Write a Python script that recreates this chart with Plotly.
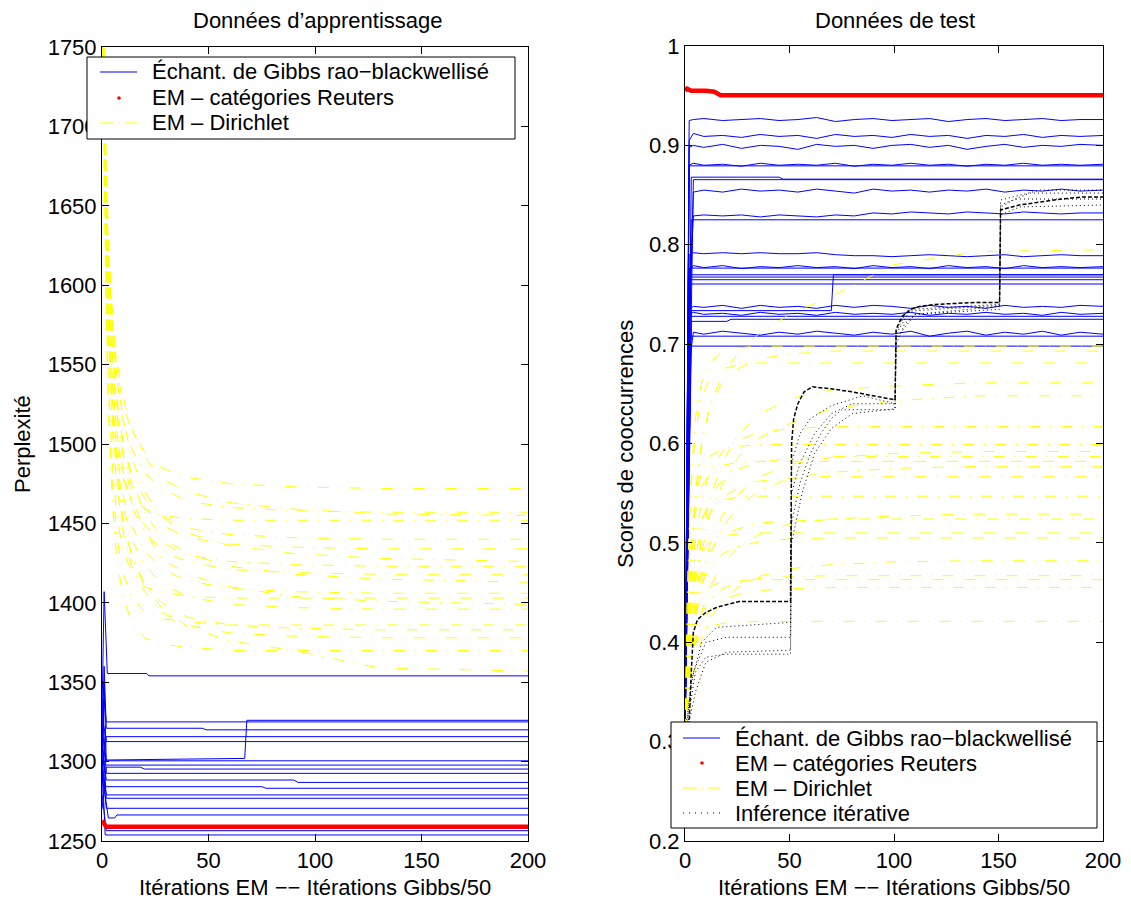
import plotly.graph_objects as go

# The page body adds an 8 px margin; the figure is sized and positioned so that
# its content lands on the reference's pixel positions inside the 1131x900 window.
PAGE_W, PAGE_H, OFF = 1131, 900, 8
W, H = PAGE_W - OFF, PAGE_H - OFF

# ---------------- Left panel: training data (perplexity) ----------------
XL = [0, 1, 2, 3, 4, 5, 7, 10, 14, 20, 28, 40, 60, 90, 130, 200]
DIR_TRAIN = [
    [1800, 1718, 1659, 1620, 1593, 1574, 1547, 1524, 1508, 1495, 1485, 1479, 1475, 1473, 1472, 1472],
    [1820, 1729, 1664, 1620, 1591, 1570, 1540, 1515, 1497, 1482, 1472, 1464, 1460, 1458, 1457, 1457],
    [1790, 1716, 1663, 1626, 1599, 1579, 1552, 1529, 1509, 1492, 1478, 1470, 1463, 1459, 1456, 1455],
    [1780, 1682, 1616, 1573, 1544, 1524, 1498, 1478, 1467, 1459, 1455, 1453, 1452, 1452, 1452, 1452],
    [1810, 1718, 1651, 1607, 1577, 1555, 1525, 1499, 1481, 1466, 1455, 1447, 1443, 1441, 1440, 1440],
    [1800, 1709, 1643, 1599, 1569, 1547, 1518, 1493, 1474, 1460, 1449, 1441, 1437, 1435, 1434, 1434],
    [1830, 1741, 1676, 1632, 1600, 1575, 1543, 1515, 1491, 1470, 1454, 1444, 1436, 1431, 1428, 1426],
    [1790, 1698, 1632, 1588, 1559, 1537, 1507, 1482, 1463, 1449, 1438, 1430, 1426, 1424, 1423, 1423],
    [1800, 1705, 1636, 1590, 1559, 1536, 1506, 1479, 1460, 1445, 1433, 1426, 1421, 1419, 1418, 1418],
    [1810, 1723, 1659, 1615, 1584, 1560, 1528, 1500, 1477, 1457, 1441, 1431, 1423, 1418, 1415, 1413],
    [1790, 1694, 1625, 1579, 1548, 1525, 1494, 1467, 1448, 1433, 1421, 1414, 1409, 1407, 1406, 1406],
    [1770, 1660, 1587, 1539, 1506, 1484, 1454, 1432, 1420, 1410, 1407, 1404, 1403, 1403, 1403, 1403],
    [1820, 1727, 1660, 1614, 1580, 1555, 1521, 1492, 1466, 1445, 1428, 1418, 1410, 1404, 1401, 1399],
    [1800, 1699, 1626, 1578, 1545, 1521, 1489, 1461, 1440, 1424, 1412, 1404, 1399, 1397, 1396, 1396],
    [1780, 1662, 1583, 1532, 1496, 1473, 1441, 1418, 1404, 1394, 1390, 1388, 1386, 1386, 1386, 1386],
    [1800, 1696, 1621, 1571, 1537, 1512, 1479, 1450, 1429, 1412, 1400, 1391, 1386, 1384, 1383, 1383],
    [1790, 1687, 1613, 1563, 1530, 1506, 1473, 1444, 1423, 1407, 1394, 1386, 1381, 1379, 1378, 1378],
    [1780, 1657, 1575, 1522, 1485, 1460, 1427, 1403, 1388, 1378, 1374, 1372, 1370, 1370, 1370, 1370],
    [1800, 1700, 1630, 1580, 1545, 1520, 1487, 1450, 1430, 1410, 1397, 1385, 1376, 1370, 1359, 1357],
]

GIBBS_TRAIN_X = [
    [0, 1, 2.5, 21, 22, 200],
    [0, 1, 2, 200],
    [0, 1, 2, 47, 49, 200],
    [0, 2, 200],
    [0, 2, 200],
    [0, 1, 2, 67, 68, 200],
    [0, 2, 200],
    [0, 2, 200],
    [0, 2, 18, 20, 200],
    [0, 2, 200],
    [0, 2, 90, 92, 200],
    [0, 2, 75, 77, 200],
    [0, 2, 200],
    [0, 2, 200],
    [0, 2, 200],
    [0, 1, 3, 6, 7, 200],
    [0, 2, 200],
    [0, 1.5, 200],
]
GIBBS_TRAIN_Y = [
    [1330, 1407, 1355.5, 1355.5, 1354, 1354],
    [1300, 1340, 1325, 1325],
    [1310, 1360, 1321, 1321, 1320, 1320],
    [1290, 1315.7, 1315.7],
    [1330, 1312.6, 1312.6],
    [1280, 1350, 1301, 1302, 1326, 1326],
    [1320, 1300.5, 1300.5],
    [1300, 1297.8, 1297.8],
    [1270, 1296.5, 1296.5, 1295.3, 1295.3],
    [1340, 1292.6, 1292.6],
    [1310, 1288.4, 1288.4, 1286.9, 1286.9],
    [1290, 1284.2, 1284.2, 1283.2, 1283.2],
    [1300, 1279, 1279],
    [1320, 1276.9, 1276.9],
    [1300, 1270.6, 1270.6],
    [1290, 1283, 1264.5, 1264.5, 1266.4, 1266.4],
    [1280, 1256.5, 1256.5],
    [1300, 1253.8, 1253.8],
]

REUTERS_TRAIN_X = [0, 1, 2, 200]
REUTERS_TRAIN_Y = [1262.8, 1261, 1259, 1259]

# ---------------- Right panel: test data (co-occurrence scores) ----------------
XR = [0, 1, 2, 3, 5, 8, 12, 18, 25, 35, 50, 70, 100, 140, 200]
DIR_TEST = [
    [0.30, 0.36, 0.42, 0.47, 0.54, 0.60, 0.64, 0.67, 0.69, 0.71, 0.73, 0.748, 0.78, 0.793, 0.795],
    [0.30, 0.439, 0.519, 0.571, 0.626, 0.662, 0.682, 0.692, 0.696, 0.698, 0.698, 0.698, 0.698, 0.698, 0.698],
    [0.30, 0.379, 0.441, 0.489, 0.552, 0.603, 0.638, 0.662, 0.675, 0.685, 0.690, 0.693, 0.693, 0.693, 0.693],
    [0.30, 0.433, 0.510, 0.559, 0.612, 0.647, 0.666, 0.675, 0.679, 0.681, 0.681, 0.681, 0.681, 0.681, 0.681],
    [0.30, 0.343, 0.379, 0.412, 0.459, 0.506, 0.545, 0.582, 0.607, 0.629, 0.645, 0.654, 0.658, 0.661, 0.661],
    [0.30, 0.34, 0.37, 0.40, 0.44, 0.49, 0.53, 0.56, 0.585, 0.605, 0.62, 0.635, 0.643, 0.648, 0.648],
    [0.30, 0.363, 0.414, 0.452, 0.503, 0.544, 0.573, 0.592, 0.603, 0.611, 0.615, 0.617, 0.617, 0.617, 0.617],
    [0.30, 0.405, 0.464, 0.503, 0.545, 0.572, 0.587, 0.595, 0.597, 0.599, 0.599, 0.599, 0.599, 0.599, 0.599],
    [0.30, 0.335, 0.364, 0.391, 0.428, 0.466, 0.499, 0.528, 0.548, 0.566, 0.579, 0.586, 0.590, 0.592, 0.592],
    [0.30, 0.357, 0.403, 0.438, 0.484, 0.521, 0.547, 0.564, 0.574, 0.581, 0.585, 0.587, 0.587, 0.587, 0.587],
    [0.30, 0.399, 0.455, 0.492, 0.531, 0.557, 0.571, 0.578, 0.581, 0.582, 0.582, 0.582, 0.582, 0.582, 0.582],
    [0.30, 0.333, 0.361, 0.386, 0.422, 0.458, 0.488, 0.516, 0.535, 0.552, 0.565, 0.571, 0.575, 0.577, 0.577],
    [0.30, 0.353, 0.396, 0.428, 0.471, 0.506, 0.530, 0.546, 0.555, 0.562, 0.565, 0.567, 0.567, 0.567, 0.567],
    [0.30, 0.386, 0.436, 0.468, 0.503, 0.525, 0.537, 0.543, 0.546, 0.547, 0.547, 0.547, 0.547, 0.547, 0.547],
    [0.30, 0.327, 0.350, 0.371, 0.401, 0.431, 0.456, 0.479, 0.495, 0.508, 0.519, 0.524, 0.527, 0.529, 0.529],
    [0.30, 0.345, 0.381, 0.408, 0.443, 0.472, 0.493, 0.506, 0.514, 0.520, 0.522, 0.524, 0.524, 0.524, 0.524],
    [0.30, 0.374, 0.416, 0.443, 0.472, 0.491, 0.502, 0.507, 0.509, 0.510, 0.510, 0.510, 0.510, 0.510, 0.510],
    [0.30, 0.341, 0.374, 0.398, 0.431, 0.458, 0.476, 0.489, 0.496, 0.501, 0.504, 0.505, 0.505, 0.505, 0.505],
    [0.30, 0.322, 0.340, 0.356, 0.380, 0.404, 0.424, 0.442, 0.455, 0.466, 0.474, 0.478, 0.481, 0.482, 0.482],
    [0.30, 0.333, 0.360, 0.380, 0.407, 0.429, 0.444, 0.454, 0.459, 0.464, 0.466, 0.467, 0.467, 0.467, 0.467],
    [0.30, 0.357, 0.390, 0.411, 0.434, 0.448, 0.456, 0.461, 0.462, 0.463, 0.463, 0.463, 0.463, 0.463, 0.463],
    [0.30, 0.331, 0.356, 0.374, 0.399, 0.419, 0.433, 0.443, 0.448, 0.452, 0.454, 0.455, 0.455, 0.455, 0.455],
    [0.30, 0.342, 0.367, 0.382, 0.399, 0.410, 0.416, 0.419, 0.420, 0.421, 0.421, 0.421, 0.421, 0.421, 0.421],
]

XW = [0, 2, 4, 9, 18, 27, 36, 45, 54, 63, 72, 81, 90, 99, 108, 117, 126, 135, 144, 153, 162, 171, 180, 189, 200]
GIBBS_TEST_NOISY = [
    [0.30, 0.925, 0.926, 0.927, 0.925, 0.926, 0.927, 0.925, 0.926, 0.928, 0.924, 0.926, 0.927, 0.925, 0.926, 0.927, 0.924, 0.926, 0.927, 0.925, 0.926, 0.927, 0.925, 0.926, 0.926],
    [0.30, 0.905, 0.912, 0.909, 0.910, 0.908, 0.911, 0.909, 0.910, 0.907, 0.911, 0.909, 0.910, 0.908, 0.911, 0.909, 0.910, 0.907, 0.910, 0.909, 0.911, 0.908, 0.910, 0.909, 0.910],
    [0.29, 0.898, 0.900, 0.898, 0.901, 0.897, 0.900, 0.899, 0.896, 0.901, 0.899, 0.900, 0.897, 0.900, 0.901, 0.898, 0.900, 0.896, 0.899, 0.901, 0.898, 0.900, 0.899, 0.901, 0.900],
    [0.31, 0.880, 0.882, 0.880, 0.881, 0.879, 0.882, 0.880, 0.881, 0.880, 0.882, 0.879, 0.881, 0.880, 0.882, 0.880, 0.881, 0.879, 0.881, 0.880, 0.882, 0.880, 0.881, 0.880, 0.881],
    [0.30, 0.70, 0.853, 0.855, 0.853, 0.856, 0.854, 0.855, 0.853, 0.856, 0.854, 0.852, 0.856, 0.854, 0.855, 0.853, 0.855, 0.854, 0.856, 0.853, 0.855, 0.854, 0.856, 0.854, 0.855],
    [0.30, 0.75, 0.829, 0.830, 0.829, 0.830, 0.828, 0.830, 0.829, 0.828, 0.830, 0.829, 0.832, 0.831, 0.833, 0.832, 0.831, 0.833, 0.832, 0.831, 0.833, 0.832, 0.831, 0.832, 0.832],
    [0.30, 0.79, 0.792, 0.791, 0.792, 0.791, 0.792, 0.791, 0.791, 0.792, 0.790, 0.789, 0.789, 0.788, 0.789, 0.790, 0.789, 0.788, 0.789, 0.790, 0.788, 0.789, 0.790, 0.789, 0.789],
    [0.30, 0.775, 0.779, 0.777, 0.779, 0.776, 0.778, 0.777, 0.779, 0.777, 0.778, 0.776, 0.779, 0.777, 0.778, 0.776, 0.779, 0.777, 0.778, 0.776, 0.779, 0.777, 0.778, 0.777, 0.778],
    [0.30, 0.735, 0.738, 0.737, 0.739, 0.736, 0.739, 0.737, 0.738, 0.736, 0.739, 0.737, 0.739, 0.738, 0.736, 0.739, 0.737, 0.738, 0.736, 0.739, 0.737, 0.738, 0.737, 0.739, 0.738],
    [0.29, 0.73, 0.732, 0.730, 0.731, 0.729, 0.732, 0.730, 0.731, 0.729, 0.732, 0.730, 0.731, 0.730, 0.732, 0.729, 0.731, 0.730, 0.732, 0.730, 0.731, 0.729, 0.732, 0.730, 0.731],
    [0.30, 0.68, 0.712, 0.710, 0.713, 0.711, 0.709, 0.712, 0.710, 0.713, 0.711, 0.709, 0.712, 0.710, 0.713, 0.708, 0.711, 0.713, 0.709, 0.712, 0.710, 0.713, 0.709, 0.712, 0.710],
]

GIBBS_TEST_X = [
    [0, 2, 200], [0, 3, 45, 47, 200], [0, 4, 200], [0, 3, 200], [0, 2, 200],
    [0, 2, 200], [0, 3, 70, 71, 200], [0, 2, 200], [0, 2, 200], [0, 2, 200],
    [0, 2, 200], [0, 3, 20, 22, 200], [0, 2, 200], [0, 3, 200],
]
GIBBS_TEST_Y = [
    [0.31, 0.8794, 0.8794], [0.30, 0.868, 0.868, 0.866, 0.866], [0.32, 0.8655, 0.8655],
    [0.30, 0.8251, 0.8251], [0.30, 0.7765, 0.7765], [0.31, 0.7698, 0.7698],
    [0.30, 0.7337, 0.7337, 0.7698, 0.7698], [0.29, 0.7675, 0.7675], [0.30, 0.7648, 0.7648],
    [0.31, 0.7605, 0.7605], [0.30, 0.728, 0.728], [0.30, 0.7229, 0.7229, 0.725, 0.725],
    [0.30, 0.708, 0.708], [0.30, 0.698, 0.698],
]

REUTERS_TEST_X = [0, 1, 2, 3, 10, 14, 17, 200]
REUTERS_TEST_Y = [0.955, 0.957, 0.956, 0.955, 0.955, 0.954, 0.9505, 0.9505]

ITER_MAIN_X = [0, 2, 3, 4, 6, 10, 15, 20, 26, 50.5, 51, 52, 54, 57, 61, 70, 80, 90, 100.5,
               101, 104, 108, 112, 120, 130, 140, 150.5, 151, 160, 170, 180, 190, 200]
ITER_MAIN_Y = [0.28, 0.32, 0.37, 0.41, 0.423, 0.43, 0.435, 0.438, 0.441, 0.441, 0.60, 0.625, 0.64,
               0.652, 0.657, 0.655, 0.652, 0.648, 0.644, 0.715, 0.728, 0.735, 0.738, 0.740, 0.741,
               0.742, 0.742, 0.835, 0.840, 0.843, 0.846, 0.848, 0.848]
ITER_X = [
    [0, 2, 5, 10, 20, 50.5, 51, 55, 60, 65, 70, 75, 100.5, 101, 105, 110, 150.5, 151, 160, 200],
    [0, 3, 8, 15, 50.5, 51, 55, 62, 70, 80, 100.5, 101, 108, 150.5, 151, 165, 200],
    [0, 4, 10, 20, 50.5, 51, 56, 62, 70, 80, 100.5, 101, 110, 150.5, 151, 170, 200],
    [0, 5, 10, 20, 50.5, 51, 55, 60, 70, 85, 100.5, 101, 106, 150.5, 151, 158, 200],
]
ITER_Y = [
    [0.29, 0.33, 0.37, 0.385, 0.388, 0.388, 0.52, 0.56, 0.59, 0.61, 0.625, 0.634, 0.634, 0.70, 0.72, 0.73, 0.735, 0.83, 0.838, 0.84],
    [0.30, 0.36, 0.40, 0.415, 0.42, 0.55, 0.58, 0.61, 0.63, 0.64, 0.64, 0.71, 0.735, 0.74, 0.84, 0.852, 0.852],
    [0.31, 0.37, 0.40, 0.405, 0.405, 0.50, 0.55, 0.59, 0.615, 0.63, 0.635, 0.705, 0.73, 0.738, 0.845, 0.855, 0.855],
    [0.30, 0.35, 0.38, 0.39, 0.392, 0.58, 0.61, 0.625, 0.638, 0.648, 0.64, 0.712, 0.733, 0.739, 0.838, 0.846, 0.846],
]

X_TICKS = [0, 50, 100, 150, 200]
LEGEND_NAMES = ["Échant. de Gibbs rao−blackwellisé", "EM – catégories Reuters",
                "EM – Dirichlet", "Inférence itérative"]

BLUE, RED, YELLOW, BLACK = "#0000ff", "#ff0000", "#ffff00", "#000000"
DASHDOT = "11px,10px,1px,10px"
DOT = "1px,3px"
FONT = "Liberation Sans, Arial, Helvetica, sans-serif"
FS = 22

fig = go.Figure()

def add(x, y, ax, color, width=1, dash="solid", name=None):
    fig.add_trace(go.Scatter(x=x, y=y, mode="lines", showlegend=False, hoverinfo="skip",
                             name=name, line=dict(color=color, width=width, dash=dash),
                             xaxis="x" if ax == 1 else "x2", yaxis="y" if ax == 1 else "y2"))

# left panel
for xs, ys in zip(GIBBS_TRAIN_X, GIBBS_TRAIN_Y):
    add(xs, ys, 1, BLUE, name=LEGEND_NAMES[0])
add(REUTERS_TRAIN_X, REUTERS_TRAIN_Y, 1, RED, 4.5, name=LEGEND_NAMES[1])
for ys in DIR_TRAIN:
    add(XL, ys, 1, YELLOW, 1, DASHDOT, name=LEGEND_NAMES[2])

# right panel
for ys in GIBBS_TEST_NOISY:
    add(XW, ys, 2, BLUE, name=LEGEND_NAMES[0])
for xs, ys in zip(GIBBS_TEST_X, GIBBS_TEST_Y):
    add(xs, ys, 2, BLUE, name=LEGEND_NAMES[0])
add(REUTERS_TEST_X, REUTERS_TEST_Y, 2, RED, 4.5, name=LEGEND_NAMES[1])
for ys in DIR_TEST:
    add(XR, ys, 2, YELLOW, 1, DASHDOT, name=LEGEND_NAMES[2])
for xs, ys in zip(ITER_X, ITER_Y):
    add(xs, ys, 2, BLACK, 1, DOT, name=LEGEND_NAMES[3])
add(ITER_MAIN_X, ITER_MAIN_Y, 2, BLACK, 1.5, "4px,2px", name=LEGEND_NAMES[3])

axis_common = dict(showline=True, linecolor="black", linewidth=1, mirror="ticks",
                   ticks="inside", ticklen=7, tickcolor="black", showgrid=False,
                   zeroline=False, automargin=False,
                   tickfont=dict(size=FS, color="black", family=FONT))

# target page-pixel positions of the two axes boxes
L_X0, L_X1, R_X0, R_X1 = 102, 528, 685, 1103
Y_TOP_L, Y_TOP_R, Y_BOT = 47, 46, 841

def PX(x):
    return (x - OFF) / W

def PY(y):
    return 1 - (y - OFF) / H

fig.update_layout(
    width=W, height=H, autosize=False,
    margin=dict(l=0, r=0, t=0, b=0, autoexpand=False),
    paper_bgcolor="white", plot_bgcolor="white", showlegend=False,
    font=dict(family=FONT, size=FS, color="black"),
    xaxis=dict(domain=[PX(L_X0), PX(L_X1)], range=[0, 200], tickvals=X_TICKS,
               anchor="y", **axis_common),
    yaxis=dict(domain=[PY(Y_BOT), PY(Y_TOP_L)], range=[1250, 1750], dtick=50,
               anchor="x", **axis_common),
    xaxis2=dict(domain=[PX(R_X0), PX(R_X1)], range=[0, 200], tickvals=X_TICKS,
                anchor="y2", **axis_common),
    yaxis2=dict(domain=[PY(Y_BOT), PY(Y_TOP_R)], range=[0.2, 1], dtick=0.1,
                anchor="x2", **axis_common),
)

def note(text, x, y, angle=0, xanchor="center"):
    fig.add_annotation(text=text, x=PX(x), y=PY(y), xref="paper", yref="paper",
                       showarrow=False, textangle=angle,
                       font=dict(size=FS, color="black", family=FONT),
                       xanchor=xanchor, yanchor="middle")

def rect(x0, y0, x1, y1):
    fig.add_shape(type="rect", xref="paper", yref="paper", x0=PX(x0), y0=PY(y1),
                  x1=PX(x1), y1=PY(y0), line=dict(color="black", width=1),
                  fillcolor="white", layer="above")

def seg(x0, x1, y, color, dash="solid", width=1):
    fig.add_shape(type="line", xref="paper", yref="paper", x0=PX(x0), y0=PY(y),
                  x1=PX(x1), y1=PY(y), line=dict(color=color, width=width, dash=dash),
                  layer="above")

def dot(x, y, r, color):
    fig.add_shape(type="circle", xref="paper", yref="paper", x0=PX(x - r), y0=PY(y + r),
                  x1=PX(x + r), y1=PY(y - r), line=dict(color=color, width=0),
                  fillcolor=color, layer="above")

# legend, left panel
rect(87, 57, 515, 139)
rows_l = [72, 98, 123]
seg(100, 137, rows_l[0], BLUE)
dot(119, rows_l[1], 1.8, RED)
seg(100, 137, rows_l[2], YELLOW, "14px,5px,1px,5px")
for name, ry in zip(LEGEND_NAMES[:3], rows_l):
    note(name, 150, ry, xanchor="left")

# legend, right panel
rect(671, 722, 1097, 828)
rows_r = [738, 763, 788, 813]
seg(683, 720, rows_r[0], BLUE)
dot(702, rows_r[1], 1.8, RED)
seg(683, 720, rows_r[2], YELLOW, "14px,5px,1px,5px")
seg(683, 720, rows_r[3], BLACK, "1px,5px")
for name, ry in zip(LEGEND_NAMES, rows_r):
    note(name, 733, ry, xanchor="left")

note("Données d’apprentissage", 318, 21)
note("Données de test", 895, 21)
note("Itérations EM −− Itérations Gibbs/50", 315, 887)
note("Itérations EM −− Itérations Gibbs/50", 894, 887)
note("Perplexité", 22, 444, -90)
note("Scores de cooccurrences", 625, 444, -90)

fig.write_html("out.html")
